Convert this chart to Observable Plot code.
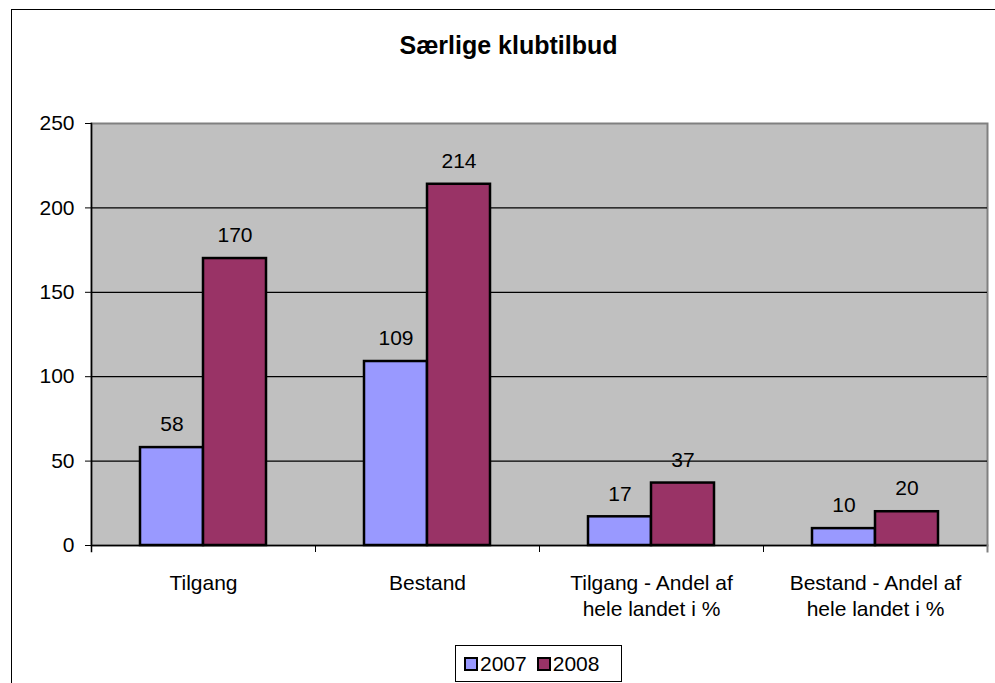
<!DOCTYPE html>
<html>
<head>
<meta charset="utf-8">
<script src="https://cdn.jsdelivr.net/npm/d3@7"></script>
<script src="https://cdn.jsdelivr.net/npm/@observablehq/plot@0.6"></script>
<style>
  html, body { margin: 0; padding: 0; background: #fff; overflow: hidden; }
  body { width: 995px; height: 683px; position: relative; font-family: "Liberation Sans", Arial, sans-serif; }
  #frame { position: absolute; left: 11px; top: 9px; width: 1000px; height: 700px; border: 1px solid #000; box-sizing: border-box; }
  #chart { position: absolute; left: 0; top: 0; }
  #title { position: absolute; left: 11px; width: 995px; top: 31px; text-align: center; font-weight: bold; font-size: 25px; }
  #legend { position: absolute; left: 455px; top: 645px; width: 167px; height: 37px; border: 1px solid #000; box-sizing: border-box; display: flex; align-items: center; padding-left: 8px; font-size: 21px; background: #fff; }
  .item { display: flex; align-items: center; margin-right: 10px; }
  .sw { width: 10px; height: 10px; border: 2px solid #000; margin-right: 2px; }
</style>
</head>
<body>
<div id="frame"></div>
<div id="chart"></div>
<div id="title">Særlige klubtilbud</div>
<div id="legend"></div>
<script>
const categories = ["Tilgang", "Bestand", "Tilgang - Andel af\nhele landet i %", "Bestand - Andel af\nhele landet i %"];
const years = ["2007", "2008"];
const values2007 = [58, 109, 17, 10];
const values2008 = [170, 214, 37, 20];
const yTicks = [0, 50, 100, 150, 200, 250];
const colors = ["#9999FF", "#993366"];

const seriesValues = {"2007": values2007, "2008": values2008};
const data = categories.flatMap((c, i) => years.map(y => ({category: c, year: y, value: seriesValues[y][i]})));

const W = 995, H = 683, mT = 123, mB = 138, mL = 90, mR = 7;
const plotH = H - mT - mB;

const chart = Plot.plot({
  width: W, height: H,
  marginTop: mT, marginBottom: mB, marginLeft: mL, marginRight: mR,
  style: {fontFamily: "'Liberation Sans', Arial, sans-serif", fontSize: "21px", background: "transparent", color: "#000"},
  fx: {domain: categories, padding: 0, label: null},
  x: {domain: years, paddingInner: 0, paddingOuter: 0.754, axis: null},
  y: {domain: [0, 250], label: null},
  color: {domain: years, range: colors},
  marks: [
    Plot.frame({facet: "super", fill: "#C0C0C0", stroke: "#808080", strokeWidth: 2}),
    Plot.gridY(yTicks.slice(1, -1), {stroke: "#000", strokeOpacity: 1, strokeWidth: 1.2}),
    Plot.ruleY([0], {stroke: "#000", strokeWidth: 1.5}),
    Plot.frame({facet: "super", anchor: "left", stroke: "#000", strokeWidth: 1.5, insetBottom: -6}),
    Plot.frame({anchor: "left", stroke: "#000", strokeWidth: 1, insetTop: plotH, insetBottom: -6}),
    Plot.frame({facet: "super", anchor: "right", stroke: "#808080", strokeWidth: 2, insetTop: plotH, insetBottom: -6}),
    Plot.axisY(yTicks, {tickSize: 6, tickPadding: 11, fontSize: 21, label: null, stroke: "#000"}),
    Plot.axisFx({anchor: "bottom", tickSize: 0, tickPadding: 27, fontSize: 21, lineHeight: 1.2, label: null}),
    Plot.barY(data, {fx: "category", x: "year", y: "value", fill: "year", stroke: "#000", strokeWidth: 2.5}),
    Plot.text(data, {fx: "category", x: "year", y: "value", text: d => String(d.value), dy: -23, lineAnchor: "middle", fontSize: 21, fill: "#000"})
  ]
});
document.getElementById("chart").appendChild(chart);

const legend = document.getElementById("legend");
years.forEach((y, i) => {
  const item = document.createElement("div");
  item.className = "item";
  const sw = document.createElement("div");
  sw.className = "sw";
  sw.style.background = colors[i];
  const t = document.createElement("span");
  t.textContent = y;
  item.appendChild(sw);
  item.appendChild(t);
  legend.appendChild(item);
});
</script>
</body>
</html>
